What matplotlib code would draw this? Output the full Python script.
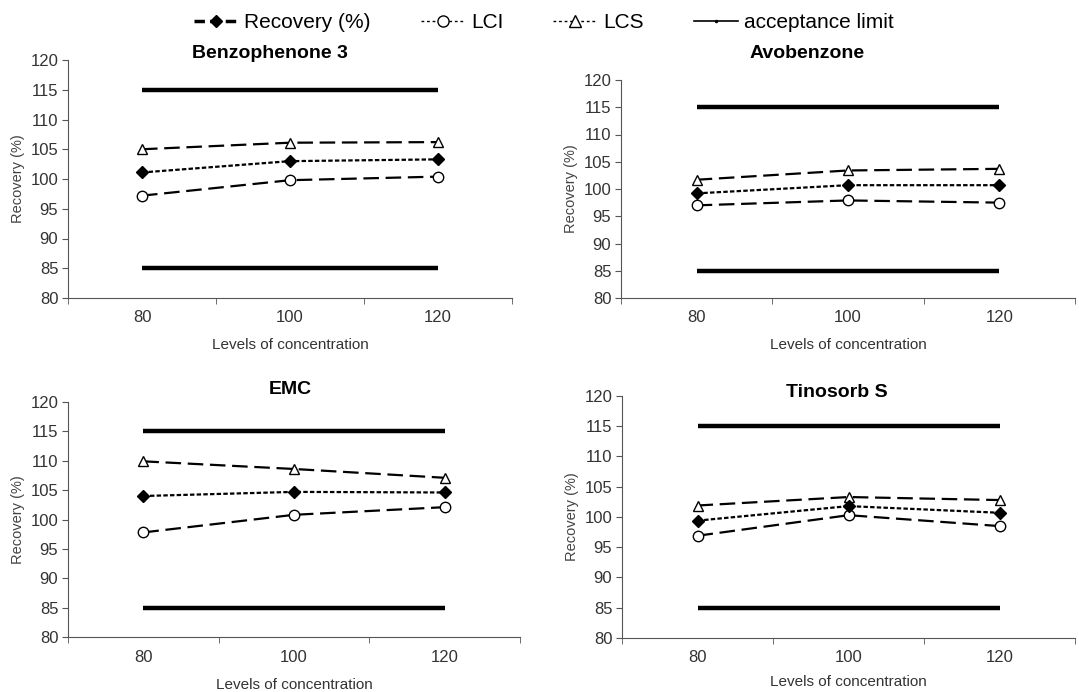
import numpy as np
import matplotlib
matplotlib.use("Agg")
import matplotlib.pyplot as plt
from matplotlib.lines import Line2D

plt.rcParams['font.family'] = ['Liberation Sans', 'DejaVu Sans']

levels = ["80", "100", "120"]
compounds = ["Benzophenone 3", "Avobenzone", "EMC", "Tinosorb S"]

recovery = {
    "Benzophenone 3": [101.1, 103.0, 103.3],
    "Avobenzone": [99.2, 100.7, 100.7],
    "EMC": [104.0, 104.7, 104.6],
    "Tinosorb S": [99.4, 101.8, 100.7],
}
lci = {
    "Benzophenone 3": [97.2, 99.8, 100.4],
    "Avobenzone": [97.0, 97.9, 97.5],
    "EMC": [97.8, 100.8, 102.1],
    "Tinosorb S": [96.9, 100.3, 98.5],
}
lcs = {
    "Benzophenone 3": [105.0, 106.1, 106.2],
    "Avobenzone": [101.7, 103.4, 103.7],
    "EMC": [109.9, 108.6, 107.1],
    "Tinosorb S": [101.9, 103.3, 102.8],
}
limit_low = 85
limit_high = 115

W, H = 1079, 692
fig = plt.figure(figsize=(W / 100, H / 100), dpi=100)

# axes boxes in pixels: left, top, right, bottom
boxes = {
    "Benzophenone 3": (68, 60, 512, 298),
    "Avobenzone": (621, 80, 1075, 298),
    "EMC": (68, 402, 520, 637),
    "Tinosorb S": (622, 396, 1075, 638),
}
# title (x, y) and x-label y, in pixels
title_pos = {"Benzophenone 3": (270, 53), "Avobenzone": (807, 53), "EMC": (290, 390), "Tinosorb S": (837, 392)}
xlabel_y = {"Benzophenone 3": 345, "Avobenzone": 345, "EMC": 685, "Tinosorb S": 682}

gray = "#555555"

for name in compounds:
    l, t, r, b = boxes[name]
    ax = fig.add_axes([l / W, 1 - b / H, (r - l) / W, (b - t) / H])
    x = np.arange(1, len(levels) + 1)

    ax.plot([x[0], x[-1]], [limit_high, limit_high], color="black", lw=3.2, solid_capstyle="butt")
    ax.plot([x[0], x[-1]], [limit_low, limit_low], color="black", lw=3.2, solid_capstyle="butt")
    ax.plot(x, lcs[name], color="black", lw=1.6, dashes=(7, 3), marker="^", ms=7.5,
            mfc="white", mec="black", mew=1.0)
    ax.plot(x, lci[name], color="black", lw=1.6, dashes=(7, 3), marker="o", ms=7.5,
            mfc="white", mec="black", mew=1.0)
    ax.plot(x, recovery[name], color="black", lw=1.6, dashes=(2, 1), marker="D", ms=6,
            mfc="black", mec="black")

    ax.set_xlim(0.5, len(levels) + 0.5)
    ax.set_ylim(80, 120)
    ax.set_yticks(np.arange(80, 121, 5))
    ax.set_xticks(x)
    ax.set_xticklabels(levels)
    ax.set_xticks(np.arange(0.5, len(levels) + 1, 1), minor=True)
    ax.tick_params(axis="x", which="major", length=0, pad=9, labelsize=12, labelcolor="#333333")
    ax.tick_params(axis="x", which="minor", length=4, color=gray)
    ax.tick_params(axis="y", length=4, color=gray, labelsize=12, labelcolor="#333333", pad=3)

    for s in ["top", "right"]:
        ax.spines[s].set_visible(False)
    ax.spines["left"].set_color(gray)
    ax.spines["bottom"].set_color(gray)
    ax.spines["left"].set_linewidth(0.8)
    ax.spines["bottom"].set_linewidth(0.8)

    ax.set_ylabel("Recovery (%)", fontsize=10.5, color="#444444", labelpad=4)
    tx, ty = title_pos[name]
    fig.text(tx / W, 1 - ty / H, name, ha="center", va="center", fontsize=14, fontweight="bold")
    fig.text((l + r) / 2 / W, 1 - xlabel_y[name] / H, "Levels of concentration",
             ha="center", va="center", fontsize=11, color="#333333")

handles = [
    Line2D([], [], color="black", lw=2.5, dashes=(3, 1.5), marker="D", ms=6, mfc="black"),
    Line2D([], [], color="black", lw=1.0, dashes=(2, 2), marker="o", ms=8, mfc="white"),
    Line2D([], [], color="black", lw=1.0, dashes=(2, 2), marker="^", ms=8, mfc="white"),
    Line2D([], [], color="black", lw=1.2, marker=".", ms=3),
]
labels = ["Recovery (%)", "LCI", "LCS", "acceptance limit"]
fig.legend(handles, labels, loc="center", bbox_to_anchor=(544 / W, 1 - 23 / H), ncol=4,
           frameon=False, fontsize=15, handlelength=2.1, columnspacing=2.4, handletextpad=0.3)

fig.savefig("out.png", dpi=100)
